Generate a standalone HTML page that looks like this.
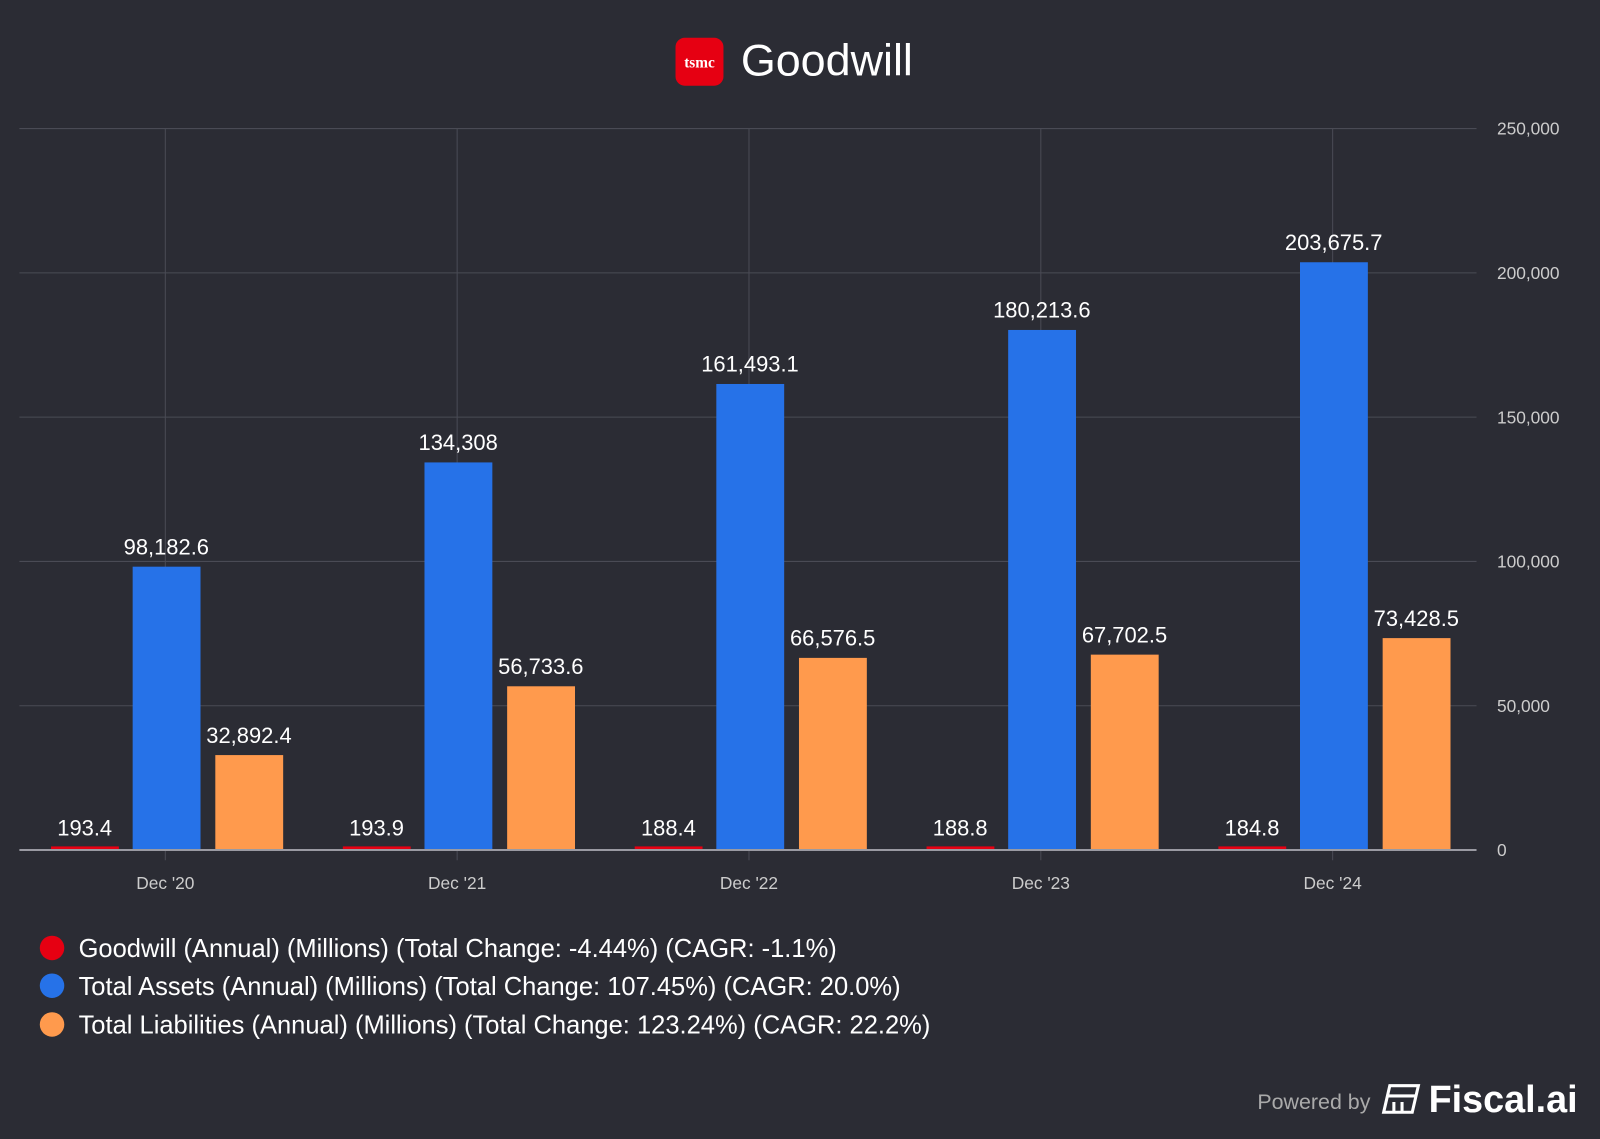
<!DOCTYPE html>
<html><head><meta charset="utf-8"><style>
body{margin:0;background:#2b2c34;font-family:"Liberation Sans",sans-serif;}
</style></head><body>
<svg width="1600" height="1134" viewBox="0 0 1600 1134" xmlns="http://www.w3.org/2000/svg">
<rect width="1600" height="1134" fill="#2b2c34"/>
<g transform="scale(1.020408)">
<g>
<rect x="662" y="37" width="47" height="47" rx="9" fill="#e60012"/>
<text x="685.5" y="66" font-family="Liberation Serif,serif" font-weight="bold" font-size="15" fill="#fff" text-anchor="middle">tsmc</text>
<text x="726" y="74" font-size="44" fill="#fff">Goodwill</text>
</g>
<g id="grid"></g><g id="bars"></g>
<g font-size="25" fill="#fff">
<circle cx="51" cy="929" r="12" fill="#e60012"/><text x="77" y="938">Goodwill (Annual) (Millions) (Total Change: -4.44%) (CAGR: -1.1%)</text>
<circle cx="51" cy="966" r="12" fill="#2672e8"/><text x="77" y="975">Total Assets (Annual) (Millions) (Total Change: 107.45%) (CAGR: 20.0%)</text>
<circle cx="51" cy="1004" r="12" fill="#ff9a4d"/><text x="77" y="1013">Total Liabilities (Annual) (Millions) (Total Change: 123.24%) (CAGR: 22.2%)</text>
</g>
<g>
<text x="1343" y="1087" font-size="21" fill="#aaa" text-anchor="end">Powered by</text>
<g fill="none" stroke="#fff" stroke-width="3"><path d="M1362 1064h28l-6 26h-28z M1360 1074h28 M1366 1080v10 M1374 1080v10"/></g>
<text x="1400" y="1090" font-size="37" fill="#fff" font-weight="bold">Fiscal.ai</text>
</g>
</g>
</svg>
<script>
const categories=["Dec '20","Dec '21","Dec '22","Dec '23","Dec '24"];
const goodwill=[193.4,193.9,188.4,188.8,184.8];
const assets=[98182.6,134308,161493.1,180213.6,203675.7];
const liabilities=[32892.4,56733.6,66576.5,67702.5,73428.5];
const yTicks=[0,50000,100000,150000,200000,250000];
const NS="http://www.w3.org/2000/svg";
const y0=833,y1=126,yMax=250000;
const y=v=>y0-(v/yMax)*(y0-y1);
const x=i=>162+i*286;
const fmt=v=>v.toLocaleString('en-US',{maximumFractionDigits:1});
function mk(t,a,p){const e=document.createElementNS(NS,t);for(const k in a)e.setAttribute(k,a[k]);p.appendChild(e);return e;}
const g=document.getElementById('grid'),b=document.getElementById('bars');
yTicks.forEach(t=>{
 if(t>0){const l=mk('line',{x1:19,x2:1447,y1:y(t),y2:y(t),stroke:'#4a4b55','stroke-width':1},g);
 
 }
 const tx=mk('text',{x:1467,y:y(t)+6,'font-size':17,fill:'#ccc'},g);tx.textContent=t.toLocaleString('en-US');
 
 
});
categories.forEach((c,i)=>{
 const l=mk('line',{x1:x(i),x2:x(i),y1:y1,y2:y0+10,stroke:'#4a4b55'},g);
 
 
 const t=mk('text',{x:x(i),y:871,'font-size':17,fill:'#ccc','text-anchor':'middle'},g);t.textContent=c;
 
 
 [[goodwill,'#e60012',-112,'goodwill'],[assets,'#2672e8',-32,'assets'],[liabilities,'#ff9a4d',49,'liabilities']].forEach(([s,col,off,n])=>{
  const v=s[i],top=Math.min(y(v),y0-3.5);
  const r=mk('rect',{x:x(i)+off,y:top,width:66.5,height:y0-top,fill:col},b);
  
  
  const lb=mk('text',{x:x(i)+off+33,y:Math.min(y(v),y0-2)-12,'font-size':21.5,fill:'#fff','text-anchor':'middle'},b);lb.textContent=fmt(v);
  
  
 });
});
const ax=mk('line',{x1:19,x2:1447,y1:y0,y2:y0,stroke:'#9a9aa2','stroke-width':2},b);


</script>
</body></html>
